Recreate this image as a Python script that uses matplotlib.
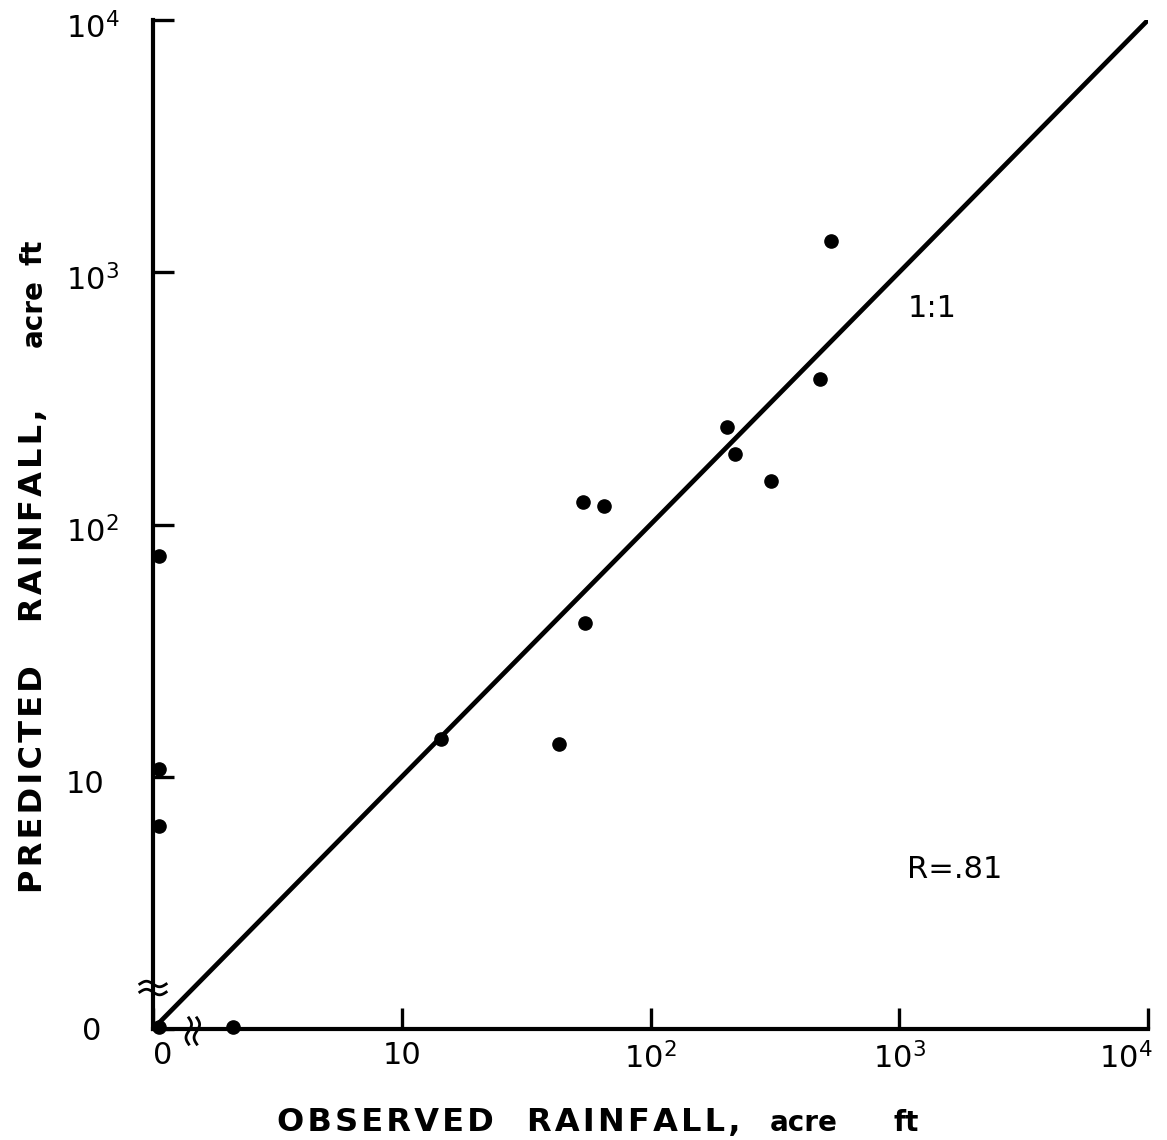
import numpy as np
import matplotlib.pyplot as plt
import matplotlib.transforms as mtransforms

plt.rcParams['font.family'] = ['DejaVu Sans']

# observed vs predicted rainfall, acre ft (0 = no rainfall, drawn on the broken axis)
observed = [0, 0, 0, 0, 2.1, 14.4, 43, 53.5, 65, 54.5, 203, 219, 305, 480, 532]
predicted = [0, 75, 10.7, 6.4, 0, 14.1, 13.5, 123, 118, 40.7, 244, 190, 149, 378, 1330]
r_text = "R=.81"

tick_vals = [1, 10, 100, 1000, 10000]
x_tick_labels = ["0", "10", r"$\mathregular{10^2}$", r"$\mathregular{10^3}$", r"$\mathregular{10^4}$"]
y_tick_labels = ["0", "10", r"$\mathregular{10^2}$", r"$\mathregular{10^3}$", r"$\mathregular{10^4}$"]

x_words = ["OBSERVED", "RAINFALL,", "acre", "ft"]
y_words = ["PREDICTED", "RAINFALL,", "acre", "ft"]

# where a zero value sits on the broken log axes
X_ZERO = 1.06
Y_ZERO = 1.02

W, H = 1167, 1140
fig = plt.figure(figsize=(W / 100, H / 100), dpi=100)
ax = fig.add_axes([153 / W, 1 - 1029 / H, 995 / W, 1009 / H])

ax.set_xscale('log')
ax.set_yscale('log')
ax.set_xlim(1, 1e4)
ax.set_ylim(1, 1e4)

xs = [v if v > 0 else X_ZERO for v in observed]
ys = [v if v > 0 else Y_ZERO for v in predicted]
ax.plot(xs, ys, 'o', color='black', markersize=9.5, zorder=4, clip_on=False)

# 1:1 line
ax.plot([1, 1e4], [1, 1e4], color='black', lw=3.4, solid_capstyle='butt', zorder=3)

for s in ['top', 'right']:
    ax.spines[s].set_visible(False)
for s in ['left', 'bottom']:
    ax.spines[s].set_linewidth(3)

ax.tick_params(which='both', direction='in', length=15, width=2.4, labelsize=22)
ax.tick_params(axis='x', pad=9)
ax.tick_params(axis='y', pad=63)
ax.set_xticks(tick_vals)
ax.set_xticklabels(x_tick_labels)
ax.set_yticks(tick_vals)
ax.set_yticklabels(y_tick_labels)
ax.minorticks_off()

def shift(txt, dx, dy):
    txt.set_transform(txt.get_transform() +
                      mtransforms.ScaledTranslation(dx / 100, dy / 100, fig.dpi_scale_trans))

for t in ax.get_yticklabels():
    t.set_ha('left')
xl = ax.get_xticklabels()
shift(xl[0], 10, 0)
xl[-1].set_ha('right')
shift(xl[-1], 5, 0)
yl = ax.get_yticklabels()
shift(yl[0], 17, 0)
for t in yl[1:]:
    shift(t, 0, -5)

# axis break marks
def break_mark(xfrac, yfrac, vertical):
    t = np.linspace(-0.5, 0.5, 50)
    L, amp, gap = 19, 2.0, 2.9
    tr = mtransforms.Affine2D().scale(fig.dpi / 72) + \
        mtransforms.ScaledTranslation(xfrac, yfrac, ax.transAxes)
    for off in (-gap, gap):
        a = t * L
        b = off + amp * np.sin(2 * np.pi * t)
        if vertical:
            ax.plot(b, a, color='black', lw=2, transform=tr, clip_on=False, zorder=5)
        else:
            ax.plot(a, -b, color='black', lw=2, transform=tr, clip_on=False, zorder=5)

break_mark(0.0, 0.0406, vertical=False)
break_mark(0.040, -0.002, vertical=True)

ax.text(0.783, 0.714, "1:1", transform=ax.transAxes, fontsize=22, ha='center', va='center')
ax.text(0.806, 0.158, r_text, transform=ax.transAxes, fontsize=22, ha='center', va='center')

def lettered(w):
    # wide tracking for capitals, lowercase left plain
    if w.isupper() or w.rstrip(',').isupper():
        return '\u200a'.join(w), 23
    return w, 20

# axis titles, word by word as lettered on the original
for word, x0 in zip(x_words, [277, 527, 770, 893]):
    s, fs = lettered(word)
    fig.text(x0 / W, 1 - 1131 / H, s, fontsize=fs, fontweight='bold',
             ha='left', va='baseline')
for word, y0 in zip(y_words, [893, 622, 347, 265]):
    s, fs = lettered(word)
    fig.text(42 / W, 1 - y0 / H, s, fontsize=fs, fontweight='bold',
             rotation=90, rotation_mode='anchor', ha='left', va='baseline')

fig.savefig("out.png", dpi=100)
